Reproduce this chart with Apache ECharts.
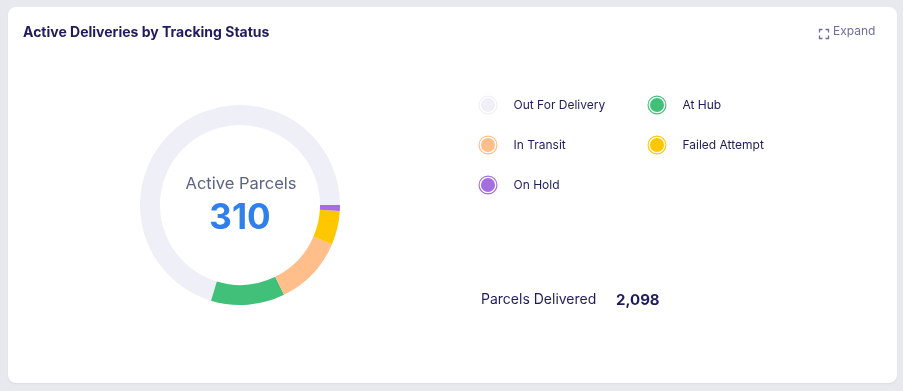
<!DOCTYPE html>
<html><head><meta charset="utf-8">
<script src="https://cdn.jsdelivr.net/npm/echarts@6/dist/echarts.min.js"></script>
<style>
html,body{margin:0;padding:0;background:#e8e9ee;width:903px;height:391px;overflow:hidden;}
#card{position:absolute;left:8px;top:7px;width:889px;height:376px;background:#fff;border-radius:8px;box-shadow:0 1px 2px rgba(0,0,0,0.06);}
#chart{position:absolute;left:0;top:0;width:903px;height:391px;}
</style></head>
<body><div id="card"></div><div id="chart"></div>
<script>
const categories = ['Out For Delivery', 'At Hub', 'In Transit', 'Failed Attempt', 'On Hold'];
const values = [218, 37, 35, 17, 3];
const colors = ['#efeff8', '#40c078', '#ffbe8a', '#ffc700', '#a46de0'];
const deliveredLabel = 'Parcels Delivered';
const deliveredValue = 2098;
const centerLabel = 'Active Parcels';

const total = values.reduce((a, b) => a + b, 0);
const navy = '#1f1c5e';
const iconPath = 'path://M0,10 A10,10 0 1,1 20,10 A10,10 0 1,1 0,10 Z M1.2,10 A8.8,8.8 0 1,0 18.8,10 A8.8,8.8 0 1,0 1.2,10 Z M2.6,10 A7.4,7.4 0 1,1 17.4,10 A7.4,7.4 0 1,1 2.6,10 Z';

function legendCol(left, idxs) {
  return {
    orient: 'vertical', left: left, top: 95.5, padding: 0,
    itemWidth: 19, itemHeight: 19, itemGap: 21,
    icon: iconPath, selectedMode: false,
    data: idxs.map(i => ({name: categories[i], itemStyle: {color: colors[i]}})),
    textStyle: {fontFamily: 'Inter', fontSize: 12, color: navy, padding: [0, 0, 0, 11]}
  };
}

const chart = echarts.init(document.getElementById('chart'), null, {renderer: 'canvas'});
chart.setOption({
  animation: false,
  title: {
    text: 'Active Deliveries by Tracking Status',
    left: 18, top: 21,
    textStyle: {fontFamily: 'Inter', fontSize: 14, fontWeight: 'bold', color: navy}
  },
  legend: [legendCol(478.5, [0, 2, 4]), legendCol(647.5, [1, 3])],
  graphic: [
    {type: 'text', left: 833, top: 25, style: {text: 'Expand', fontFamily: 'Inter', fontSize: 12, fill: '#6c6f98'}},
    {type: 'group', left: 817, top: 27, children: [
      {type: 'polyline', shape: {points: [[0, 3], [0, 0], [3, 0]]}, style: {stroke: '#6c6f98', lineWidth: 1.3, fill: null}},
      {type: 'polyline', shape: {points: [[6, 0], [9, 0], [9, 3]]}, style: {stroke: '#6c6f98', lineWidth: 1.3, fill: null}},
      {type: 'polyline', shape: {points: [[0, 6], [0, 9], [3, 9]]}, style: {stroke: '#6c6f98', lineWidth: 1.3, fill: null}},
      {type: 'polyline', shape: {points: [[6, 9], [9, 9], [9, 6]]}, style: {stroke: '#6c6f98', lineWidth: 1.3, fill: null}}
    ]},
    {type: 'text', x: 241, y: 184, style: {text: centerLabel, fontFamily: 'Inter', fontSize: 16.5, fill: '#5b6482', align: 'center', verticalAlign: 'middle'}},
    {type: 'text', x: 240, y: 218, style: {text: String(total), fontFamily: 'Inter', fontSize: 35, fontWeight: 'bold', fill: '#2f80ed', align: 'center', verticalAlign: 'middle'}},
    {type: 'text', x: 481, y: 300, style: {text: deliveredLabel, fontFamily: 'Inter', fontSize: 14, fill: navy, verticalAlign: 'middle'}},
    {type: 'text', x: 616, y: 300, style: {text: deliveredValue.toLocaleString('en-US'), fontFamily: 'Inter', fontSize: 15, fontWeight: 'bold', fill: navy, verticalAlign: 'middle'}}
  ],
  series: [{
    type: 'pie',
    center: [240, 205],
    radius: [80, 100],
    startAngle: 0,
    clockwise: false,
    silent: true,
    label: {show: false},
    labelLine: {show: false},
    itemStyle: {borderWidth: 0},
    data: categories.map((c, i) => ({name: c, value: values[i], itemStyle: {color: colors[i]}}))
  }]
});
</script></body></html>
